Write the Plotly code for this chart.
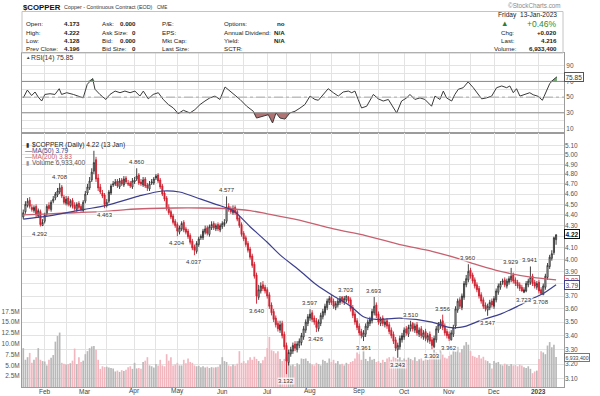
import numpy as np
import pandas as pd
import plotly.graph_objects as go

# ---------------- data ----------------
holidays = ["2022-02-21", "2022-04-15", "2022-05-30", "2022-06-20", "2022-07-04",
            "2022-09-05", "2022-11-24", "2022-12-26", "2023-01-02"]
dates = pd.bdate_range("2022-01-18", "2023-01-13", freq="C", holidays=holidays)

opens = [
    4.38, 4.43, 4.49, 4.54, 4.47, 4.44, 4.48, 4.39, 4.43, 4.30,
    4.34, 4.41, 4.49, 4.45, 4.53, 4.56, 4.59, 4.62, 4.67, 4.57,
    4.51, 4.56, 4.49, 4.54, 4.49, 4.45, 4.51, 4.48, 4.44, 4.53,
    4.61, 4.66, 4.74, 4.83, 4.95, 4.76, 4.67, 4.61, 4.59, 4.49,
    4.53, 4.61, 4.69, 4.70, 4.73, 4.67, 4.74, 4.69, 4.76, 4.71,
    4.71, 4.67, 4.72, 4.75, 4.79, 4.72, 4.69, 4.75, 4.69, 4.65,
    4.71, 4.71, 4.76, 4.79, 4.74, 4.68, 4.61, 4.56, 4.47, 4.43,
    4.39, 4.34, 4.31, 4.24, 4.27, 4.33, 4.27, 4.25, 4.21, 4.16,
    4.11, 4.07, 4.13, 4.19, 4.19, 4.24, 4.28, 4.22, 4.28, 4.32,
    4.27, 4.31, 4.26, 4.29, 4.31, 4.34, 4.48, 4.46, 4.42, 4.47,
    4.43, 4.37, 4.31, 4.23, 4.19, 4.14, 4.09, 4.03, 3.96, 3.87,
    3.69, 3.74, 3.79, 3.77, 3.75, 3.71, 3.63, 3.58, 3.53, 3.49,
    3.44, 3.49, 3.41, 3.33, 3.21, 3.27, 3.29, 3.34, 3.30, 3.33,
    3.35, 3.39, 3.44, 3.49, 3.53, 3.57, 3.53, 3.51, 3.45, 3.49,
    3.54, 3.57, 3.61, 3.65, 3.69, 3.66, 3.61, 3.63, 3.65, 3.69,
    3.65, 3.67, 3.69, 3.67, 3.61, 3.56, 3.51, 3.47, 3.43, 3.39,
    3.41, 3.46, 3.49, 3.51, 3.57, 3.63, 3.56, 3.49, 3.53, 3.48,
    3.51, 3.48, 3.44, 3.41, 3.37, 3.30, 3.32, 3.37, 3.39, 3.45,
    3.41, 3.45, 3.49, 3.44, 3.48, 3.41, 3.45, 3.39, 3.43, 3.37,
    3.41, 3.37, 3.32, 3.37, 3.44, 3.47, 3.51, 3.47, 3.43, 3.41,
    3.37, 3.41, 3.47, 3.59, 3.67, 3.61, 3.69, 3.79, 3.83, 3.91,
    3.87, 3.83, 3.79, 3.76, 3.71, 3.67, 3.63, 3.59, 3.61, 3.66,
    3.62, 3.67, 3.73, 3.77, 3.81, 3.83, 3.78, 3.81, 3.83, 3.87,
    3.83, 3.81, 3.79, 3.77, 3.73, 3.74, 3.79, 3.81, 3.86, 3.81,
    3.77, 3.81, 3.75, 3.71, 3.77, 3.85, 3.94, 4.01, 4.06, 4.173,
]
highs = [
    4.45, 4.53, 4.56, 4.57, 4.50, 4.49, 4.50, 4.46, 4.45, 4.36,
    4.42, 4.50, 4.52, 4.54, 4.58, 4.62, 4.66, 4.708, 4.69, 4.59,
    4.58, 4.58, 4.55, 4.56, 4.52, 4.52, 4.53, 4.50, 4.54, 4.63,
    4.70, 4.77, 4.86, 5.045, 4.98, 4.80, 4.70, 4.64, 4.61, 4.55,
    4.64, 4.70, 4.73, 4.75, 4.75, 4.76, 4.76, 4.78, 4.78, 4.74,
    4.73, 4.76, 4.77, 4.86, 4.81, 4.75, 4.77, 4.77, 4.71, 4.73,
    4.75, 4.77, 4.80, 4.81, 4.76, 4.70, 4.63, 4.58, 4.50, 4.45,
    4.41, 4.36, 4.33, 4.30, 4.34, 4.35, 4.29, 4.27, 4.23, 4.18,
    4.13, 4.16, 4.20, 4.22, 4.27, 4.30, 4.30, 4.31, 4.34, 4.34,
    4.32, 4.33, 4.32, 4.34, 4.36, 4.577, 4.51, 4.48, 4.49, 4.49,
    4.45, 4.39, 4.33, 4.25, 4.21, 4.16, 4.11, 4.05, 3.98, 3.89,
    3.79, 3.81, 3.82, 3.79, 3.77, 3.73, 3.65, 3.60, 3.55, 3.51,
    3.51, 3.51, 3.43, 3.35, 3.30, 3.32, 3.35, 3.36, 3.36, 3.38,
    3.42, 3.47, 3.52, 3.56, 3.597, 3.59, 3.55, 3.53, 3.52, 3.57,
    3.60, 3.64, 3.68, 3.70, 3.71, 3.68, 3.66, 3.68, 3.70, 3.70,
    3.70, 3.703, 3.70, 3.69, 3.63, 3.58, 3.53, 3.49, 3.45, 3.44,
    3.49, 3.52, 3.54, 3.60, 3.693, 3.65, 3.58, 3.54, 3.55, 3.52,
    3.53, 3.50, 3.46, 3.43, 3.39, 3.35, 3.40, 3.42, 3.46, 3.47,
    3.48, 3.51, 3.50, 3.49, 3.50, 3.46, 3.47, 3.44, 3.45, 3.42,
    3.43, 3.39, 3.40, 3.47, 3.50, 3.52, 3.556, 3.49, 3.45, 3.43,
    3.44, 3.48, 3.62, 3.68, 3.69, 3.72, 3.82, 3.87, 3.96, 3.93,
    3.89, 3.85, 3.81, 3.78, 3.73, 3.69, 3.65, 3.64, 3.67, 3.68,
    3.70, 3.76, 3.80, 3.82, 3.84, 3.85, 3.84, 3.86, 3.929, 3.89,
    3.85, 3.83, 3.81, 3.79, 3.77, 3.82, 3.84, 3.941, 3.88, 3.83,
    3.82, 3.83, 3.77, 3.80, 3.88, 3.97, 4.04, 4.08, 4.20, 4.222,
]
lows = [
    4.36, 4.41, 4.47, 4.46, 4.43, 4.42, 4.38, 4.37, 4.292, 4.30,
    4.32, 4.39, 4.44, 4.43, 4.51, 4.54, 4.57, 4.60, 4.56, 4.50,
    4.49, 4.48, 4.47, 4.46, 4.44, 4.43, 4.45, 4.43, 4.42, 4.51,
    4.59, 4.64, 4.72, 4.80, 4.72, 4.63, 4.60, 4.56, 4.463, 4.47,
    4.51, 4.59, 4.67, 4.68, 4.66, 4.65, 4.68, 4.67, 4.70, 4.68,
    4.66, 4.65, 4.70, 4.73, 4.69, 4.68, 4.67, 4.66, 4.63, 4.63,
    4.69, 4.69, 4.74, 4.71, 4.65, 4.58, 4.53, 4.44, 4.40, 4.36,
    4.31, 4.28, 4.204, 4.22, 4.25, 4.24, 4.22, 4.18, 4.13, 4.08,
    4.037, 4.05, 4.11, 4.17, 4.17, 4.22, 4.21, 4.20, 4.26, 4.26,
    4.25, 4.25, 4.24, 4.27, 4.29, 4.32, 4.43, 4.41, 4.40, 4.40,
    4.34, 4.28, 4.20, 4.16, 4.11, 4.06, 4.00, 3.93, 3.84, 3.64,
    3.67, 3.72, 3.74, 3.72, 3.68, 3.60, 3.55, 3.50, 3.46, 3.43,
    3.42, 3.38, 3.30, 3.132, 3.19, 3.25, 3.27, 3.29, 3.28, 3.31,
    3.33, 3.37, 3.42, 3.47, 3.51, 3.50, 3.48, 3.426, 3.43, 3.47,
    3.52, 3.55, 3.59, 3.63, 3.63, 3.60, 3.59, 3.61, 3.63, 3.64,
    3.63, 3.65, 3.64, 3.58, 3.53, 3.48, 3.44, 3.40, 3.38, 3.361,
    3.39, 3.44, 3.47, 3.49, 3.55, 3.53, 3.48, 3.47, 3.47, 3.46,
    3.45, 3.41, 3.38, 3.34, 3.29, 3.243, 3.30, 3.35, 3.37, 3.40,
    3.39, 3.43, 3.43, 3.42, 3.40, 3.39, 3.38, 3.37, 3.36, 3.35,
    3.34, 3.303, 3.31, 3.35, 3.42, 3.45, 3.44, 3.40, 3.38, 3.362,
    3.365, 3.39, 3.45, 3.57, 3.60, 3.59, 3.67, 3.77, 3.81, 3.84,
    3.80, 3.76, 3.73, 3.68, 3.64, 3.60, 3.58, 3.547, 3.59, 3.61,
    3.60, 3.65, 3.71, 3.75, 3.79, 3.77, 3.76, 3.79, 3.81, 3.80,
    3.78, 3.76, 3.74, 3.735, 3.723, 3.73, 3.77, 3.79, 3.78, 3.76,
    3.75, 3.72, 3.708, 3.71, 3.75, 3.83, 3.92, 3.99, 4.04, 4.128,
]
closes = [
    4.42, 4.50, 4.53, 4.48, 4.45, 4.47, 4.40, 4.44, 4.31, 4.33,
    4.40, 4.48, 4.46, 4.52, 4.55, 4.60, 4.63, 4.66, 4.58, 4.52,
    4.55, 4.50, 4.53, 4.48, 4.46, 4.50, 4.47, 4.45, 4.52, 4.60,
    4.67, 4.73, 4.82, 4.92, 4.75, 4.66, 4.62, 4.58, 4.50, 4.52,
    4.62, 4.68, 4.70, 4.72, 4.68, 4.73, 4.70, 4.75, 4.72, 4.70,
    4.68, 4.73, 4.74, 4.78, 4.71, 4.70, 4.74, 4.68, 4.66, 4.70,
    4.72, 4.75, 4.78, 4.73, 4.67, 4.60, 4.55, 4.46, 4.42, 4.38,
    4.33, 4.30, 4.25, 4.28, 4.32, 4.26, 4.24, 4.20, 4.15, 4.10,
    4.08, 4.14, 4.18, 4.20, 4.25, 4.27, 4.23, 4.29, 4.31, 4.28,
    4.30, 4.27, 4.30, 4.32, 4.33, 4.47, 4.45, 4.43, 4.46, 4.42,
    4.36, 4.30, 4.22, 4.18, 4.13, 4.08, 4.02, 3.95, 3.86, 3.70,
    3.75, 3.78, 3.76, 3.74, 3.70, 3.62, 3.57, 3.52, 3.48, 3.45,
    3.48, 3.40, 3.32, 3.22, 3.28, 3.30, 3.33, 3.31, 3.34, 3.36,
    3.40, 3.45, 3.50, 3.54, 3.56, 3.52, 3.50, 3.46, 3.50, 3.55,
    3.58, 3.62, 3.66, 3.68, 3.65, 3.62, 3.64, 3.66, 3.68, 3.66,
    3.68, 3.70, 3.66, 3.60, 3.55, 3.50, 3.46, 3.42, 3.40, 3.42,
    3.47, 3.50, 3.52, 3.58, 3.62, 3.55, 3.50, 3.52, 3.49, 3.50,
    3.47, 3.43, 3.40, 3.36, 3.31, 3.33, 3.38, 3.40, 3.44, 3.42,
    3.46, 3.48, 3.45, 3.47, 3.42, 3.44, 3.40, 3.42, 3.38, 3.40,
    3.36, 3.33, 3.38, 3.45, 3.48, 3.50, 3.46, 3.42, 3.40, 3.38,
    3.42, 3.46, 3.60, 3.66, 3.62, 3.70, 3.80, 3.84, 3.90, 3.86,
    3.82, 3.78, 3.75, 3.70, 3.66, 3.62, 3.60, 3.62, 3.65, 3.63,
    3.68, 3.74, 3.78, 3.80, 3.82, 3.79, 3.82, 3.84, 3.86, 3.82,
    3.80, 3.78, 3.76, 3.74, 3.75, 3.80, 3.82, 3.85, 3.80, 3.78,
    3.80, 3.74, 3.72, 3.78, 3.86, 3.95, 4.02, 4.05, 4.19, 4.216,
]
volumes_m = [
    9.0, 6.3, 6.9, 7.9, 5.6, 6.3, 6.9, 9.0, 6.3, 6.0,
    5.9, 5.0, 6.3, 6.8, 7.4, 10.5, 11.8, 12.6, 5.6, 5.4,
    5.2, 5.3, 5.5, 6.1, 8.9, 5.3, 6.9, 5.8, 6.1, 7.6,
    8.3, 9.0, 9.4, 9.5, 8.6, 6.3, 4.2, 4.8, 4.6, 4.7,
    4.5, 4.4, 4.3, 3.6, 3.8, 3.5, 3.9, 3.7, 4.0, 4.6,
    4.8, 4.2, 5.6, 4.3, 4.4, 4.2, 5.8, 6.1, 6.9, 5.0,
    4.8, 4.5, 5.3, 5.0, 6.3, 5.0, 4.8, 7.6, 6.1, 6.9,
    5.0, 5.2, 5.6, 5.0, 5.0, 6.3, 5.5, 6.6, 5.8, 5.6,
    5.0, 4.8, 4.9, 4.6, 4.8, 4.5, 4.7, 4.4, 4.6, 4.5,
    4.6, 4.7, 5.2, 6.9, 6.0, 5.8, 5.0, 4.8, 5.2, 5.0,
    5.4, 8.3, 5.6, 6.0, 5.5, 6.2, 6.9, 6.3, 7.0, 6.5,
    6.0, 5.5, 6.2, 7.0, 9.0, 11.6, 8.5, 8.3, 7.8, 8.3,
    6.5, 6.0, 6.5, 6.9, 5.6, 5.0, 5.2, 4.8, 5.5, 5.2,
    6.6, 6.5, 6.6, 6.0, 5.5, 5.2, 5.0, 5.6, 5.3, 5.0,
    6.3, 6.0, 5.6, 6.6, 5.8, 6.3, 5.5, 6.0, 5.2, 5.4,
    5.0, 5.6, 5.3, 5.8, 6.0, 6.6, 8.0, 7.6, 6.3, 9.3,
    6.5, 6.0, 7.0, 6.3, 6.5, 5.8, 6.0, 5.6, 6.3, 5.8,
    6.6, 6.9, 6.3, 7.0, 6.7, 6.4, 6.9, 6.2, 6.6, 6.3,
    6.8, 6.5, 6.2, 6.9, 6.0, 6.4, 6.6, 6.1, 6.5, 6.3,
    6.6, 7.2, 8.6, 8.0, 7.0, 8.6, 7.5, 6.8, 6.6, 7.2,
    7.5, 8.6, 8.2, 9.3, 8.0, 8.8, 9.6, 10.4, 9.8, 8.3,
    7.2, 7.0, 6.8, 7.4, 6.6, 7.0, 6.2, 6.0, 5.5, 4.3,
    6.0, 5.6, 5.8, 5.2, 5.0, 5.4, 5.2, 4.9, 5.3, 5.0,
    5.1, 4.8, 5.2, 5.0, 4.6, 4.4, 4.8, 4.2, 3.2, 3.6,
    3.8, 6.5, 8.3, 8.0, 7.6, 9.6, 10.4, 9.2, 9.8, 6.93,
]

ma50_day = [0, 12, 28, 39, 54, 65, 73, 83, 90, 98, 106, 114, 120, 129, 137, 145,
            153, 159, 165, 176, 191, 199, 204, 207, 215, 223, 231, 238, 243, 249]
ma50_val = [4.36, 4.39, 4.45, 4.49, 4.58, 4.63, 4.62, 4.55, 4.50, 4.44, 4.29, 4.15, 4.04, 3.91,
            3.79, 3.70, 3.62, 3.54, 3.52, 3.53, 3.50, 3.46, 3.46, 3.47, 3.52, 3.56, 3.62,
            3.68, 3.72, 3.79]
ma200_day = [0, 12, 24, 36, 48, 59, 71, 83, 94, 106, 114, 129, 145, 160, 176, 191,
             203, 213, 223, 238, 249]
ma200_val = [4.40, 4.41, 4.42, 4.43, 4.45, 4.46, 4.465, 4.465, 4.46, 4.44, 4.41, 4.35,
             4.27, 4.21, 4.13, 4.07, 4.01, 3.95, 3.90, 3.85, 3.83]

rsi_day = [0, 1.9, 3.9, 5.5, 7, 8.6, 10.1, 12.5, 14.8, 16.8,
           17.9, 20.3, 23.4, 25.7, 28, 29.9, 32.4, 33.5, 35.8, 38.6,
           40.5, 42.9, 45.2, 47.5, 49.9, 52.2, 54.5, 56.1, 58.4, 60.7,
           63.1, 65.4, 67.8, 70.1, 72.4, 74.8, 77.9, 80.2, 82.6, 84.9,
           87.2, 89.6, 91.9, 94.3, 96.6, 98.9, 101.3, 104.4, 107.5, 109,
           112.1, 114.5, 116.5, 118.1, 120, 122.3, 124.6, 127, 129.3, 131.6,
           134, 136.3, 137.9, 140.2, 142.5, 144.9, 147.2, 149.5, 151.9, 153.5,
           155, 156.5, 158.1, 160.5, 163.6, 165.9, 168.2, 170.6, 172.9, 174.5,
           176.8, 179.2, 180.7, 183, 185.4, 187.7, 190.8, 192.4, 194.7, 196.3,
           197.8, 200.2, 201.7, 203.3, 205.6, 207.9, 210.3, 211.9, 214.2, 216.5,
           218.9, 221.2, 223.6, 225.9, 227.4, 229, 230.5, 232.1, 234.4, 236.7,
           238.3, 240.6, 242.6, 244.5, 246, 247.6, 249.4]
rsi_val = [49, 59, 52, 56.5, 50, 45, 53.4, 54.3, 53.4, 60.7,
           53.4, 55.6, 53.4, 51.3, 49, 66.3, 73.7, 60, 53.4, 47,
           53.4, 57.7, 55.6, 57.7, 55.6, 57.7, 51.3, 57.7, 47.8, 53.4,
           55.6, 47, 40.5, 36.2, 29, 33.2, 29.8, 34, 40.5, 45,
           49, 51.3, 47, 62.9, 57.7, 51.3, 47, 38.4, 32, 23.3,
           25.5, 27.6, 17, 29.8, 23.3, 22, 29.8, 32, 36, 40.5,
           51.3, 47, 46, 53.4, 60.7, 55.6, 51.3, 56.5, 57.7, 55.6,
           57.7, 47, 36.2, 38.4, 53.4, 47.8, 45, 47, 36.2, 29.8,
           45, 49, 53.4, 47, 49, 47, 38.4, 51.3, 47, 57.7,
           49, 45, 53.4, 60, 62, 69.4, 62, 55.6, 47.8, 49,
           51.3, 62, 64.2, 62, 64.2, 55.6, 60.7, 51.3, 53.4, 55.6,
           53, 51, 46, 58, 67, 72, 75.85]

swing_day = [8, 17, 38, 53, 72, 80, 95, 109, 123, 134, 137, 151, 159, 164, 175,
             181, 191, 196, 199, 208, 217, 228, 234, 237, 242]
swing_val = [4.292, 4.708, 4.463, 4.860, 4.204, 4.037, 4.577, 3.640, 3.132, 3.597,
             3.426, 3.703, 3.361, 3.693, 3.243, 3.510, 3.303, 3.556, 3.362, 3.960,
             3.547, 3.929, 3.723, 3.941, 3.708]
swing_side = ["b", "a", "b", "a", "b", "b", "a", "b", "b", "a", "b", "a", "b", "a", "b",
              "a", "b", "a", "b", "a", "b", "a", "b", "a", "b"]

price_ticks = [3.1, 3.2, 3.3, 3.4, 3.5, 3.6, 3.7, 3.8, 3.9, 4.0, 4.1, 4.2, 4.3, 4.4,
               4.5, 4.6, 4.7, 4.8, 4.9, 5.0, 5.1]
price_hidden = [3.8, 4.2]          # covered by the value boxes in the reference
vol_ticks = [2.5, 5.0, 7.5, 10.0, 12.5, 15.0, 17.5]
rsi_ticks = [10, 20, 30, 40, 50, 60, 70, 80, 90]

# ---------------- geometry ----------------
W, H = 600, 396
FONT = "Liberation Sans, Arial, sans-serif"
X0, X1 = 22, 564
RSI_TOP, RSI_BOT = 53, 133
MAIN_TOP, MAIN_BOT = 133, 387
GRID = "#e3e3e3"
FRAME = "#9c9c9c"


def py(p):
    return 1 - p / H


def px(p):
    return p / W


n = len(closes)
day = list(range(n))

# grid positions: first trading day of month and first on/after the 15th
ser = pd.Series(range(len(dates)), index=dates)
month_pos, month_txt, mid_pos = [], [], []
for (yy, mm), grp in ser.groupby([dates.year, dates.month]):
    d0 = grp.index[0]
    if d0.day <= 5:
        month_pos.append(int(grp.iloc[0]))
        month_txt.append(str(yy) if mm == 1 else d0.strftime("%b"))
    mids = grp[grp.index.day >= 15]
    if len(mids) and mids.index[0].day <= 18 and int(mids.iloc[0]) > 0:
        mid_pos.append(int(mids.iloc[0]))
grid_vals = sorted(month_pos + mid_pos)

# ---------------- traces ----------------
fig = go.Figure()

vol_colors = ["#f2b6bf" if c < o else "#b8b8b8" for o, c in zip(opens, closes)]
fig.add_trace(go.Bar(x=day, y=volumes_m, width=0.78, marker=dict(color=vol_colors, line=dict(width=0)),
                     xaxis="x2", yaxis="y2", hoverinfo="skip"))

fig.add_trace(go.Scatter(x=ma200_day, y=ma200_val, mode="lines",
                         line=dict(color="#c8606f", width=1.3, shape="spline", smoothing=0.8),
                         xaxis="x2", yaxis="y3", hoverinfo="skip"))
fig.add_trace(go.Scatter(x=ma50_day, y=ma50_val, mode="lines",
                         line=dict(color="#3c3f8e", width=1.2, shape="spline", smoothing=0.8),
                         xaxis="x2", yaxis="y3", hoverinfo="skip"))

fig.add_trace(go.Candlestick(x=day, open=opens, high=highs, low=lows, close=closes,
                             xaxis="x2", yaxis="y3", whiskerwidth=0,
                             increasing=dict(line=dict(color="#2e2e2e", width=0.9), fillcolor="#ffffff"),
                             decreasing=dict(line=dict(color="#cf1f2f", width=0.9), fillcolor="#cf1f2f"),
                             hoverinfo="skip"))

# RSI fills
rsi_arr = np.array(rsi_val)
fig.add_trace(go.Scatter(x=rsi_day, y=[30] * len(rsi_day), mode="lines", line=dict(width=0),
                         xaxis="x", yaxis="y", hoverinfo="skip"))
fig.add_trace(go.Scatter(x=rsi_day, y=np.minimum(rsi_arr, 30), mode="lines", line=dict(width=0),
                         fill="tonexty", fillcolor="rgba(150,70,70,0.75)", xaxis="x", yaxis="y",
                         hoverinfo="skip"))
fig.add_trace(go.Scatter(x=rsi_day, y=[70] * len(rsi_day), mode="lines", line=dict(width=0),
                         xaxis="x", yaxis="y", hoverinfo="skip"))
fig.add_trace(go.Scatter(x=rsi_day, y=np.maximum(rsi_arr, 70), mode="lines", line=dict(width=0),
                         fill="tonexty", fillcolor="rgba(70,140,70,0.75)", xaxis="x", yaxis="y",
                         hoverinfo="skip"))
fig.add_trace(go.Scatter(x=rsi_day, y=rsi_val, mode="lines", line=dict(color="#3a3a3a", width=1),
                         xaxis="x", yaxis="y", hoverinfo="skip"))

# ---------------- layout ----------------
xcommon = dict(range=[-0.6, 252.7], domain=[px(X0), px(X1)], tickvals=grid_vals,
               showticklabels=False, showgrid=True, gridcolor=GRID, gridwidth=1, zeroline=False,
               showline=True, mirror=True, linecolor=FRAME, linewidth=1, ticks="",
               automargin=False, fixedrange=True)
tickfont = dict(size=6.5, color="#555", family=FONT)

fig.update_layout(
    width=W, height=396, template="none", margin=dict(l=0, r=0, t=0, b=0),
    paper_bgcolor="white", plot_bgcolor="white", showlegend=False,
    font=dict(family=FONT, size=7, color="#333"), hovermode=False,
    xaxis=dict(**xcommon, anchor="y"),
    xaxis2=dict(**xcommon, anchor="y2", rangeslider=dict(visible=False)),
    yaxis=dict(domain=[py(RSI_BOT), py(RSI_TOP)], range=[4.27, 106.2], side="right", anchor="x",
               tickvals=rsi_ticks, ticktext=[str(t) if t % 20 == 10 else "" for t in rsi_ticks],
               showgrid=True, gridcolor=GRID, zeroline=False, showline=True, mirror=True,
               linecolor=FRAME, ticks="", tickfont=tickfont, automargin=False, fixedrange=True),
    yaxis2=dict(domain=[py(MAIN_BOT), py(MAIN_TOP)], range=[0, 58.8], side="left", anchor="x2",
                tickvals=vol_ticks, ticktext=[f"{v:.1f}M" for v in vol_ticks], showgrid=False,
                zeroline=False, showline=True, mirror=True, linecolor=FRAME, ticks="",
                tickfont=tickfont, automargin=False, fixedrange=True),
    yaxis3=dict(overlaying="y2", side="right", anchor="x2", type="log",
                range=[np.log10(3.047), np.log10(5.24)], tickvals=price_ticks,
                ticktext=["" if v in price_hidden else f"{v:.2f}" for v in price_ticks],
                showgrid=True, gridcolor=GRID,
                zeroline=False, showline=False, ticks="", tickfont=tickfont, automargin=False,
                fixedrange=True),
)

shapes = []
# info box
shapes.append(dict(type="rect", xref="paper", yref="paper", x0=px(22), x1=px(563),
                   y0=py(RSI_TOP), y1=py(11.5), line=dict(color="#c4c4c4", width=1)))
# RSI reference lines
for lvl, dash, col in [(70, "solid", "#8a8a8a"), (30, "solid", "#8a8a8a"), (50, "dashdot", "#a8a8a8")]:
    shapes.append(dict(type="line", xref="paper", yref="y", x0=px(X0), x1=px(X1), y0=lvl, y1=lvl,
                       line=dict(color=col, width=1, dash=dash)))
fig.update_layout(shapes=shapes)

anns = []


def txt(x, y, text, size=6.2, color="#222", anchor="left", bold=False):
    if bold:
        text = f"<b>{text}</b>"
    anns.append(dict(x=px(x), y=py(y), xref="paper", yref="paper", text=text, showarrow=False,
                     xanchor=anchor, yanchor="middle", font=dict(size=size, color=color, family=FONT)))


# header
txt(21, 7.5, "$COPPER", size=7.8, color="#111", bold=True)
txt(61.5, 7.5, "Copper - Continuous Contract (EOD)", size=5.4, color="#333")
txt(154.5, 7.8, "CME", size=4.6, color="#333")
txt(563, 6, "©StockCharts.com", size=6.3, color="#8a8a8a", anchor="right")

rows = [24, 32.5, 40.5, 48.5]
col1 = [("Open:", "4.173"), ("High:", "4.222"), ("Low:", "4.128"), ("Prev Close:", "4.196")]
col2 = [("Ask:", "0.000"), ("Ask Size:", "0"), ("Bid:", "0.000"), ("Bid Size:", "0")]
col3 = ["P/E:", "EPS:", "Mkt Cap:", "Last Size:"]
col4 = [("Options:", "no"), ("Annual Dividend:", "N/A"), ("Yield:", "N/A"), ("SCTR:", "")]
for r, (a, b) in zip(rows, col1):
    txt(23.5, r, a)
    txt(81.5, r, b, anchor="right", bold=True)
for r, (a, b) in zip(rows, col2):
    txt(100, r, a)
    txt(138, r, b, anchor="right", bold=True)
for r, a in zip(rows, col3):
    txt(160, r, a)
for r, (a, b) in zip(rows, col4):
    txt(221.5, r, a)
    if b:
        txt(287, r, b, anchor="right", bold=True)

txt(559, 15, "Friday  13-Jan-2023", size=6.6, color="#222", anchor="right")
txt(499, 24, "▲", size=7.5, color="#2e7d32")
txt(559, 24, "+0.46%", size=8.5, color="#2e8b2e", anchor="right")
txt(499, 32.5, "Chg:")
txt(559, 32.5, "+0.020", anchor="right", bold=True)
txt(499, 40.5, "Last:")
txt(559, 40.5, "4.216", anchor="right", bold=True)
txt(492, 48.5, "Volume:")
txt(559, 48.5, "6,933,400", anchor="right", bold=True)

# RSI label
txt(24, 58, "▲", size=4.5, color="#444")
txt(29, 58, "RSI(14) 75.85", size=6.8, color="#333")

# main legend
txt(24, 144.7, "▮", size=6, color="#333")
txt(29.5, 144.7, "$COPPER (Daily) 4.22 (13 Jan)", size=6.6, color="#222")
txt(23, 150.8, "—", size=7, color="#3c3f8e")
txt(29.5, 150.8, "MA(50) 3.79", size=6.6, color="#3c3f8e")
txt(23, 156.8, "—", size=7, color="#c8606f")
txt(29.5, 156.8, "MA(200) 3.83", size=6.6, color="#c8606f")
txt(24, 163, "▮", size=6, color="#999")
txt(29.5, 163, "Volume 6,933,400", size=6.6, color="#555")

# month labels
for pos, lab in zip(month_pos, month_txt):
    anns.append(dict(x=pos, y=py(395.5), xref="x2", yref="paper",
                     text=(f"<b>{lab}</b>" if lab.isdigit() else lab),
                     showarrow=False, xanchor="center", yanchor="bottom", borderpad=0,
                     font=dict(size=6.5, color="#444", family=FONT)))

# swing labels
for d, v, s in zip(swing_day, swing_val, swing_side):
    anns.append(dict(x=d, y=np.log10(v), xref="x2", yref="y3", text=f"{v:.3f}", showarrow=False,
                     xanchor="center", yanchor=("bottom" if s == "a" else "top"),
                     yshift=(2 if s == "a" else -3), bgcolor="rgba(255,255,255,0.75)", borderpad=0,
                     font=dict(size=6, color="#333", family=FONT)))


# value boxes on right axis
def box(y, yref, text, border, color, bold=False, size=6.5):
    anns.append(dict(x=px(564), y=y, xref="paper", yref=yref, text=(f"<b>{text}</b>" if bold else text),
                     showarrow=False, xanchor="left", yanchor="middle", bgcolor="white",
                     bordercolor=border, borderwidth=1, borderpad=0.5,
                     font=dict(size=size, color=color, family=FONT)))


box(75.85, "y", "75.85", "#555", "#333")
box(np.log10(4.22), "y3", "4.22", "#111", "#111", bold=True)
box(np.log10(3.83), "y3", "3.83", "#c8606f", "#c03040")
box(np.log10(3.79), "y3", "3.79", "#3c3f8e", "#3c3f8e")
box(6.93, "y2", "6,933,400", "#777", "#444", size=5.2)

fig.update_layout(annotations=anns)

fig.write_html("out.html", config={"displayModeBar": False, "staticPlot": True},
               post_script="document.body.style.margin='0';document.body.style.overflow='hidden';")
